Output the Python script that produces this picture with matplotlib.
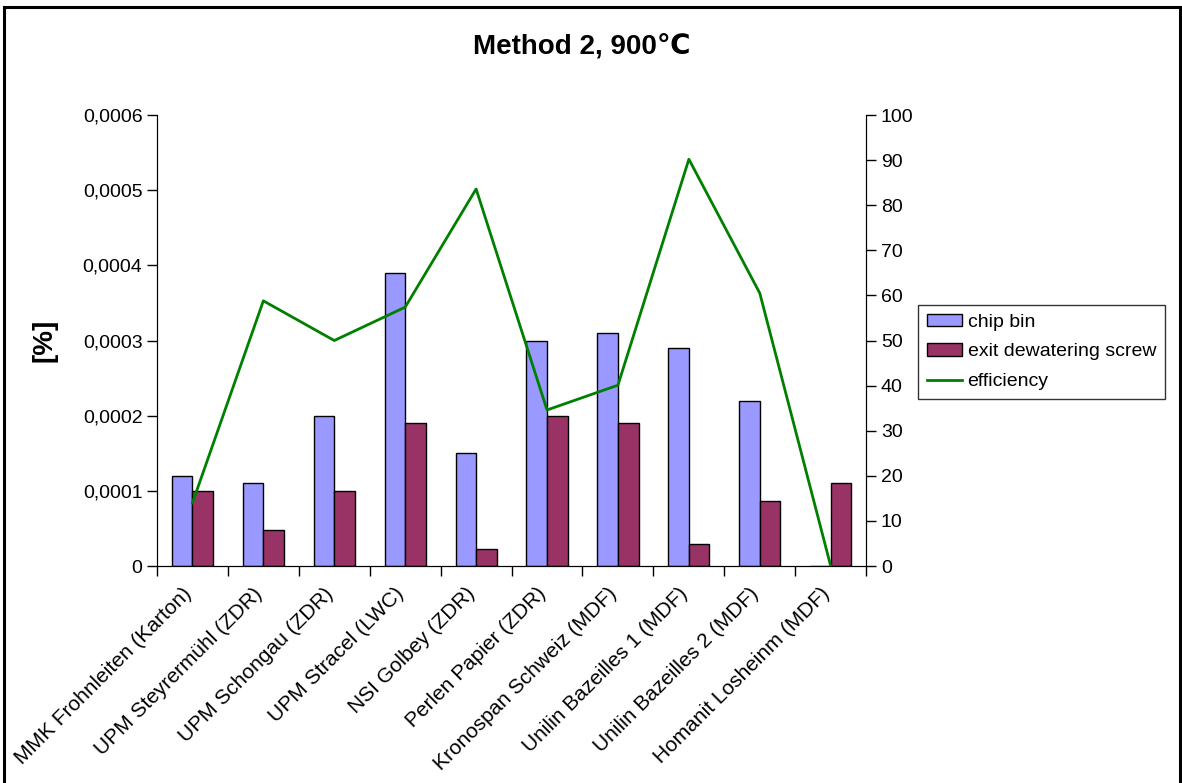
import numpy as np
import matplotlib.pyplot as plt
from matplotlib.patches import Rectangle

plt.rcParams['font.family'] = ['Liberation Sans', 'DejaVu Sans']

sites = ['MMK Frohnleiten (Karton)', 'UPM Steyrermühl (ZDR)', 'UPM Schongau (ZDR)',
         'UPM Stracel (LWC)', 'NSI Golbey (ZDR)', 'Perlen Papier (ZDR)',
         'Kronospan Schweiz (MDF)', 'Unilin Bazeilles 1 (MDF)', 'Unilin Bazeilles 2 (MDF)',
         'Homanit Losheinm (MDF)']
chip_bin = [0.00012, 0.00011, 0.0002, 0.00039, 0.00015, 0.0003, 0.00031, 0.00029, 0.00022, 0.0]
exit_screw = [0.0001, 0.000048, 0.0001, 0.00019, 0.000023, 0.0002, 0.00019, 0.000029, 0.000086, 0.00011]
efficiency = [14, 58.8, 50, 57.4, 83.6, 34.6, 40.1, 90.2, 60.5, 0]

fig = plt.figure(figsize=(11.82, 7.83), dpi=100)
ax = fig.add_axes([0.1328, 0.2771, 0.6, 0.576])

x = np.arange(len(sites))
w = 0.29
ax.bar(x - w / 2, chip_bin, width=w, color='#9999FF', edgecolor='black', linewidth=1, label='chip bin')
ax.bar(x + w / 2, exit_screw, width=w, color='#993366', edgecolor='black', linewidth=1,
       label='exit dewatering screw')

ax.set_xlim(-0.5, len(sites) - 0.5)
ax.set_ylim(0, 0.0006)
yt = np.arange(0, 0.00061, 0.0001)
ax.set_yticks(yt)
ax.set_yticklabels(['0' if v == 0 else ('%.4f' % v).replace('.', ',') for v in yt])
# tick marks on category boundaries, labels on invisible minor ticks
ax.set_xticks(np.arange(-0.5, len(sites)))
ax.set_xticklabels([])
ax.set_xticks(x - 0.15, minor=True)
ax.set_xticklabels(sites, minor=True, rotation=45, ha='right', va='top', rotation_mode='anchor')
ax.tick_params(axis='x', which='minor', length=0, pad=13, labelsize=15)
ax.tick_params(axis='x', which='major', length=7, width=1)
ax.tick_params(axis='y', labelsize=14, length=7, width=1)
ax.spines['top'].set_visible(False)
ax.set_ylabel('[%]', fontsize=20, fontweight='bold')
ax.yaxis.set_label_coords(-0.14, 0.5)
fig.text(0.492, 1 - 47 / 783, 'Method 2, 900℃', fontsize=20, fontweight='bold', ha='center', va='center')

ax2 = ax.twinx()
ax2.plot(x, efficiency, color='#008000', linewidth=2, label='efficiency')
ax2.set_ylim(0, 100)
ax2.set_yticks(np.arange(0, 101, 10))
ax2.tick_params(axis='y', labelsize=14, length=7, width=1)
ax2.spines['top'].set_visible(False)

h1, l1 = ax.get_legend_handles_labels()
h2, l2 = ax2.get_legend_handles_labels()
leg = fig.legend(h1 + h2, l1 + l2, loc='upper left', bbox_to_anchor=(918 / 1182, 1 - 305 / 783),
                 fontsize=14, frameon=True, fancybox=False, edgecolor='black',
                 handlelength=1.8, handleheight=0.6, handletextpad=0.3, borderpad=0.45,
                 labelspacing=0.65, borderaxespad=0)
leg.get_frame().set_linewidth(1)

fig.patches.append(Rectangle((4 / 1182, -0.02), 1176 / 1182, 1.02 - 7 / 783, transform=fig.transFigure,
                             fill=False, edgecolor='black', linewidth=2.2))

fig.savefig('out.png', dpi=100)
